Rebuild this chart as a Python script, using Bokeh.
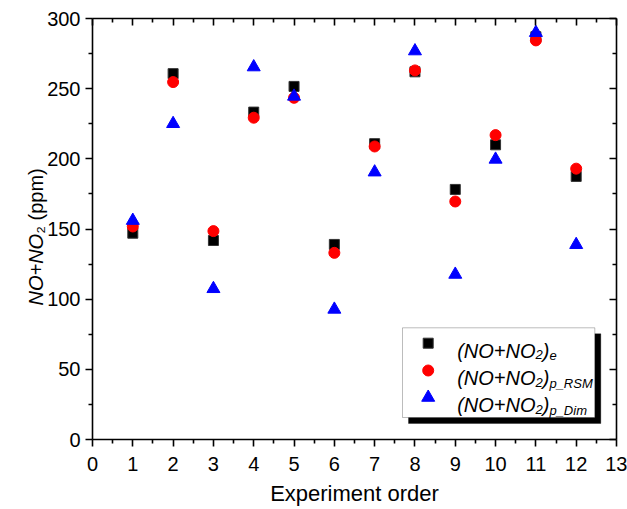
import math
from bokeh.plotting import figure
from bokeh.models import Range1d, LinearAxis, FixedTicker, BoxAnnotation, Label, CustomJSTickFormatter
from bokeh.embed import file_html
from bokeh.resources import INLINE

# ---------------- data ----------------
order = [1, 2, 3, 4, 5, 6, 7, 8, 9, 10, 11, 12]
nox_e = [147.0, 260.7, 141.8, 233.3, 251.6, 139.0, 210.8, 262.0, 178.2, 210.0, 287.0, 187.5]
nox_p_rsm = [151.8, 254.7, 148.5, 229.3, 243.5, 133.0, 208.8, 263.0, 169.6, 216.9, 284.4, 193.0]
nox_p_dim = [156.0, 225.0, 107.4, 265.4, 244.5, 92.7, 190.5, 276.8, 117.6, 199.6, 289.9, 138.8]

x_ticks = list(range(0, 14))
x_minor = [i + 0.5 for i in range(13)]
y_ticks = list(range(0, 301, 50))
y_minor = list(range(25, 300, 50))

legend_main = ["(NO+NO", "(NO+NO", "(NO+NO"]
legend_sub = ["e", "p_RSM", "p_Dim"]

# ---------------- layout ----------------
X0, X1, Y0, Y1 = 0, 13, 0, 300
W, H = 627, 509
BL, BR, BT, BB = 92, 11, 18, 70
FRAME_W, FRAME_H = W - BL - BR, H - BT - BB
FONT = "Liberation Sans"

p = figure(width=W, height=H, x_range=Range1d(X0, X1), y_range=Range1d(Y0, Y1),
           output_backend="svg", toolbar_location=None,
           min_border_left=BL, min_border_right=BR, min_border_top=BT, min_border_bottom=BB)
p.xgrid.visible = False
p.ygrid.visible = False
p.outline_line_color = None
p.background_fill_color = "white"
p.border_fill_color = "white"

sx = FRAME_W / (X1 - X0)
sy = FRAME_H / (Y1 - Y0)


def dx(px):
    """frame-relative pixel (from left) -> data x"""
    return X0 + px / sx


def dy(py):
    """frame-relative pixel (from top) -> data y"""
    return Y1 - py / sy


def style_axis(ax, outward, labels=True):
    ax.axis_line_width = 1.6
    ax.axis_line_color = "black"
    ax.major_tick_line_width = 1.6
    ax.minor_tick_line_width = 1.6
    ax.major_tick_line_color = "black"
    ax.minor_tick_line_color = "black"
    if outward:
        ax.major_tick_out, ax.major_tick_in = 7, 0
        ax.minor_tick_out, ax.minor_tick_in = 4, 0
    else:
        ax.major_tick_out, ax.major_tick_in = 0, 7
        ax.minor_tick_out, ax.minor_tick_in = 0, 4
    if labels:
        ax.major_label_text_font = FONT
        ax.major_label_text_font_size = "20px"
        ax.major_label_text_color = "black"
    else:
        ax.formatter = CustomJSTickFormatter(code="return ''")
        ax.major_label_text_font_size = "0px"


p.xaxis.ticker = FixedTicker(ticks=x_ticks, minor_ticks=x_minor)
p.yaxis.ticker = FixedTicker(ticks=y_ticks, minor_ticks=y_minor)
style_axis(p.xaxis[0], True)
style_axis(p.yaxis[0], True)
p.xaxis.major_label_standoff = 10
p.yaxis.major_label_standoff = 5
p.xaxis.axis_label = "Experiment order"
p.xaxis.axis_label_text_font = FONT
p.xaxis.axis_label_text_font_size = "22px"
p.xaxis.axis_label_text_font_style = "normal"
p.xaxis.axis_label_text_color = "black"
p.xaxis.axis_label_standoff = 7

top = LinearAxis(ticker=FixedTicker(ticks=x_ticks, minor_ticks=x_minor))
style_axis(top, False, labels=False)
p.add_layout(top, "above")
right = LinearAxis(ticker=FixedTicker(ticks=y_ticks, minor_ticks=y_minor))
style_axis(right, False, labels=False)
p.add_layout(right, "right")

# ---------------- data marks ----------------
p.scatter(order, nox_e, marker="square", size=10, fill_color="black", line_color="#333333", line_width=1)
p.scatter(order, nox_p_rsm, marker="circle", size=11, fill_color="#FF0000", line_color="#FF0000", line_width=1)
p.scatter(order, nox_p_dim, marker="triangle", size=13, fill_color="#0000FF", line_color="#0000FF", line_width=1)

# ---------------- y axis title (italic NO+NO, upright subscript 2 and (ppm)) ----------------
YL_BASE = -57.0   # baseline, px from frame left
YL_START = 287.0  # text start, px from frame top (text runs upward)
ycommon = dict(angle=math.pi / 2, text_font=FONT, text_color="black", text_font_size="20px",
               text_align="left", text_baseline="alphabetic")
p.add_layout(Label(x=dx(YL_BASE), y=dy(YL_START), text="NO+NO",
                   text_font_style="italic", **ycommon), "left")
p.add_layout(Label(x=dx(YL_BASE), y=dy(YL_START - 71.7), text="\u2082 (ppm)",
                   text_font_style="normal", **ycommon), "left")

# ---------------- legend (manual, for subscripts) ----------------
LB_L, LB_R, LB_T, LB_B = 310.0, 502.3, 309.3, 399.0   # px inside frame (from left / top)
SH = 6

p.add_layout(BoxAnnotation(left=dx(LB_L + SH), right=dx(LB_R + SH), top=dy(LB_T + SH), bottom=dy(LB_B + SH),
                           fill_color="black", fill_alpha=1, line_color="black", line_width=1, level="underlay"))
p.add_layout(BoxAnnotation(left=dx(LB_L), right=dx(LB_R), top=dy(LB_T), bottom=dy(LB_B),
                           fill_color="white", fill_alpha=1, line_color="#222222", line_width=1, level="underlay"))

row_dy = [15.4, 42.7, 69.7]
mk_dx = 25.7
p.scatter([dx(LB_L + mk_dx)], [dy(LB_T + row_dy[0])], marker="square", size=10, fill_color="black", line_color="#333333")
p.scatter([dx(LB_L + mk_dx)], [dy(LB_T + row_dy[1])], marker="circle", size=11, fill_color="#FF0000", line_color="#FF0000")
p.scatter([dx(LB_L + mk_dx)], [dy(LB_T + row_dy[2])], marker="triangle", size=13, fill_color="#0000FF", line_color="#0000FF")

TX = 54.7
for i in range(3):
    base = row_dy[i] + 7.5
    common = dict(x=dx(LB_L), y=dy(LB_T), text_font=FONT, text_color="black", text_align="left",
                  text_baseline="alphabetic", text_font_style="italic")
    p.add_layout(Label(x_offset=TX, y_offset=-base, text=legend_main[i], text_font_size="20px", **common))
    p.add_layout(Label(x_offset=TX + 78.3, y_offset=-(base + 4), text="2", text_font_size="13px", **common))
    p.add_layout(Label(x_offset=TX + 85.5, y_offset=-base, text=")", text_font_size="20px", **common))
    p.add_layout(Label(x_offset=TX + 92.2, y_offset=-(base + 5), text=legend_sub[i], text_font_size="13px", **common))

open("out.html", "w").write(file_html(p, INLINE))
